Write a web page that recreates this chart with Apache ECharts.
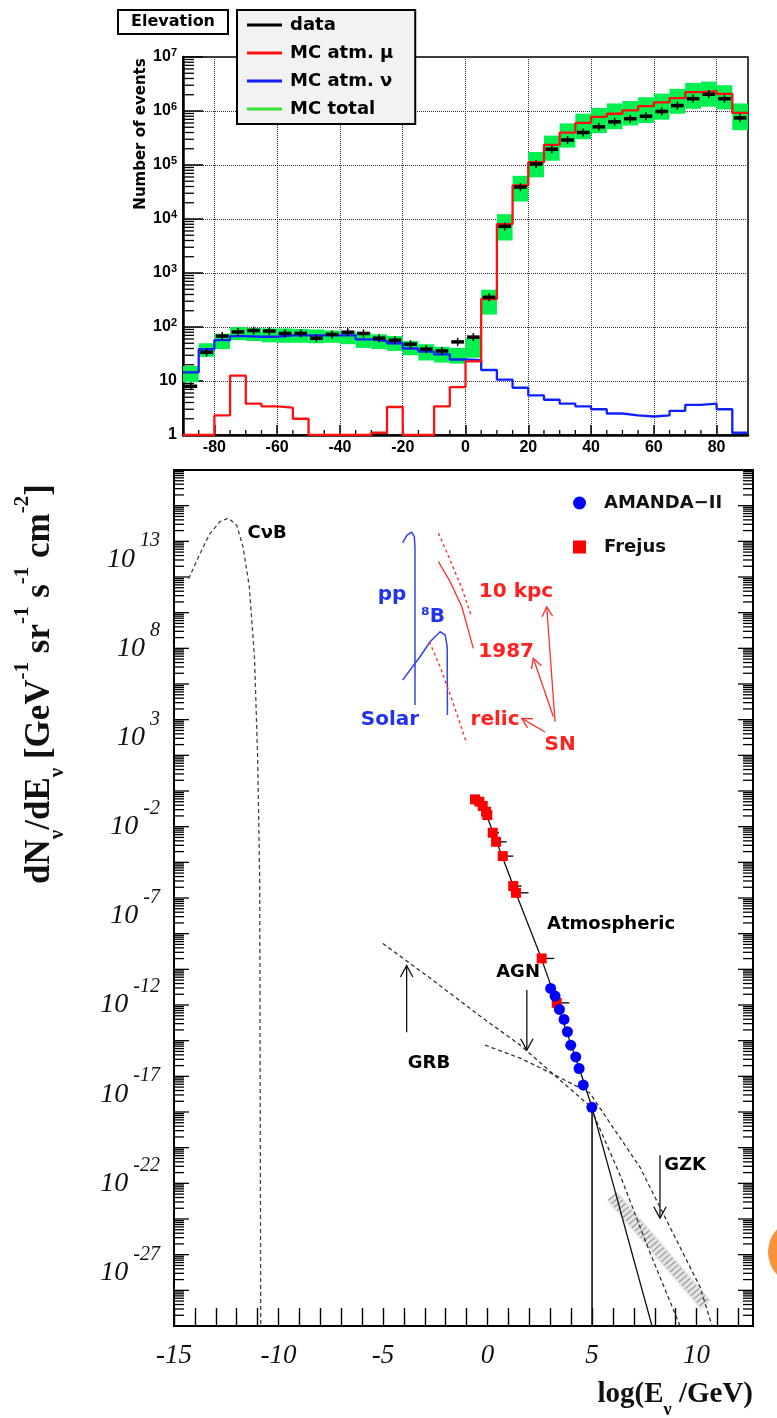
<!DOCTYPE html>
<html>
<head>
<meta charset="utf-8">
<title>Elevation histogram and neutrino flux spectrum</title>
<script src="https://cdn.jsdelivr.net/npm/echarts@6.0.0/dist/echarts.min.js"></script>
<style>
html,body{margin:0;padding:0;background:#ffffff;}
#chart{width:777px;height:1418px;}
</style>
</head>
<body>
<div id="chart"></div>
<script>
// ===== Top panel: elevation distribution, 5 degree bins =====
const binLo = [-90,-85,-80,-75,-70,-65,-60,-55,-50,-45,-40,-35,-30,-25,-20,-15,-10,-5,0,5,10,15,20,25,30,35,40,45,50,55,60,65,70,75,80,85];
const binHi = [-85,-80,-75,-70,-65,-60,-55,-50,-45,-40,-35,-30,-25,-20,-15,-10,-5,0,5,10,15,20,25,30,35,40,45,50,55,60,65,70,75,80,85,90];
const dataCounts = [8,34,68,81,86,84,76,76,62,73,80,76,62,57,48,39,36,53,65,355,7300,39000,104000,196000,290000,400000,510000,630000,720000,800000,980000,1260000,1690000,2040000,1690000,745000];
const mcMu = [1,1,2.3,12.6,3.8,3.4,3.2,2.0,1,1,1,1,1.1,3.3,1,1,3.4,7.7,23,330,8070,41900,113000,236000,398000,605000,780000,890000,1030000,1230000,1440000,1730000,2230000,2330000,2080000,920000];
const mcNu = [14.4,38.7,57,68,66,66,70,70,70,70,70,59,55,50,40,35,31,25,24.3,16,10.6,7.5,5.4,4.5,3.8,3.4,3.0,2.5,2.3,2.2,2.3,2.8,3.6,3.8,3.0,1.1];
const mcTotalLow = [9.5,28,39,57,55,52,51,51,50,51,48,41,39,36,30,24,22,21,27,170,4000,21000,59000,120000,210000,300000,390000,460000,540000,600000,690000,890000,1100000,1200000,1070000,440000];
const mcTotalHigh = [19,50,75,100,96,94,94,92,90,86,84,78,73,68,55,48,43,41,62,490,12300,63000,174000,350000,590000,890000,1140000,1380000,1530000,1800000,2100000,2570000,3300000,3500000,3000000,1380000];
const topMinorX = [-85,-75,-70,-65,-55,-50,-45,-35,-30,-25,-15,-10,-5,5,10,15,25,30,35,45,50,55,65,70,75,85];
const topLegendNames = ['data','MC atm. μ','MC atm. ν','MC total'];

// ===== Bottom panel: neutrino flux vs log10(E/GeV); y values are log10(flux) =====
const cnbX = [-14.3,-13.8,-13.3,-12.8,-12.4,-12.0,-11.7,-11.4,-11.15,-11.0,-10.9,-10.85];
const cnbY = [11.9,13.2,14.4,15.1,15.3,14.9,13.7,11.5,7.5,2.0,-5.0,-30];
const ppX = [-4.06,-3.85,-3.63,-3.50,-3.47,-3.47];
const ppY = [13.92,14.35,14.51,14.25,13.6,4.82];
const b8X = [-4.06,-3.6,-3.23,-2.75,-2.27,-2.03,-1.93,-1.92];
const b8Y = [6.22,6.95,7.53,8.37,8.93,8.75,8.1,4.26];
const sn10kpcX = [-2.35,-1.79,-1.23,-0.76];
const sn10kpcY = [14.45,12.95,11.37,9.77];
const sn1987X = [-2.35,-1.79,-1.23,-0.68];
const sn1987Y = [12.86,11.74,10.33,8.0];
const snRelicX = [-2.78,-2.27,-1.64,-1.0];
const snRelicY = [8.37,6.97,4.92,2.67];
const atmX = [-0.6,0.0,0.5,1.0,1.5,2.0,2.5,3.0,3.5,4.0,4.5,5.0,6.0,7.0,7.87];
const atmY = [-0.45,-1.5,-3.05,-4.6,-6.15,-7.65,-9.15,-10.8,-12.5,-14.25,-15.95,-17.75,-22.0,-26.3,-30];
const grbX = [-5.01,-2.75,-0.36,1.56,3.47,4.90,6.34,7.78,9.21];
const grbY = [-8.55,-10.49,-12.62,-14.25,-16.21,-17.67,-21.54,-25.91,-30];
const agnX = [-0.12,1.56,3.23,4.90,5.86,7.29,8.25,9.21,10.17,10.74];
const agnY = [-14.25,-14.98,-15.93,-16.94,-18.62,-21.09,-23.34,-25.58,-27.82,-30];
const cutX = [5,5];
const cutY = [-17.74,-30];
const gzkBandX = [5.96,10.45];
const gzkBandY = [-22.72,-28.83];
const frejusX = [-0.60,-0.39,-0.23,-0.07,-0.01,0.25,0.41,0.73,1.23,1.36,2.59,3.31];
const frejusY = [-0.47,-0.60,-0.84,-1.16,-1.35,-2.34,-2.85,-3.65,-5.33,-5.71,-9.39,-11.88];
const frejusXerr = [0.2,0.2,0.2,0.2,0.2,0.3,0.5,0.5,0.4,0.6,0.6,0.6];
const amandaX = [3.02,3.23,3.44,3.66,3.82,3.98,4.22,4.38,4.58,4.99];
const amandaY = [-11.07,-11.50,-12.25,-12.81,-13.50,-14.25,-14.91,-15.56,-16.49,-17.74];
const blackArrows = [[-3.87,-13.53,-3.87,-9.79],[1.88,-11.16,1.88,-14.53],[8.25,-20.42,8.25,-23.95]];
const redArrows = [[3.23,3.88,2.83,10.33],[3.15,4.16,2.19,7.44],[2.75,3.31,1.64,4.07]];
const blueLabels = ['pp','⁸B','Solar'];
const blueLabelX = [-4.57,-2.61,-4.67];
const blueLabelY = [10.99,9.76,3.98];
const redLabels = ['10 kpc','1987','relic','SN'];
const redLabelX = [1.36,0.89,0.36,3.47];
const redLabelY = [11.16,7.79,3.98,2.58];
const blackLabels = ['CνB','Atmospheric','AGN','GRB','GZK'];
const blackLabelX = [-10.55,5.91,1.46,-2.80,9.45];
const blackLabelY = [14.47,-7.46,-10.16,-15.26,-20.98];
const botLegendNames = ['AMANDA−II','Frejus'];

// ===== helpers =====
const SANS = '"Liberation Sans", Arial, Helvetica, sans-serif';
const WIDE = '"DejaVu Sans", Verdana, sans-serif';
const SERIF = '"Liberation Serif", "Times New Roman", serif';
const zip = (xs, ys) => xs.map((x, i) => [x, ys[i]]);
function stepPoints(vals) {
  const pts = [];
  vals.forEach((v, i) => { pts.push([binLo[i], v]); pts.push([binHi[i], v]); });
  return pts;
}
const topMinorY = [];
for (let e = 0; e < 7; e++) for (let k = 2; k <= 9; k++) topMinorY.push(k * Math.pow(10, e));
const botTicks = [];
for (let n = -30; n <= 18; n += 2) {
  botTicks.push([0, n, 15]);
  if (n < 18) for (let k = 2; k <= 9; k++) botTicks.push([0, n + 2 * Math.log10(k), 10]);
}

function renderBox(params, api) {
  const a = api.coord([api.value(0), api.value(3)]);
  const b = api.coord([api.value(1), api.value(2)]);
  return { type: 'rect', shape: { x: a[0], y: a[1], width: b[0] - a[0], height: b[1] - a[1] }, style: { fill: '#00f050' } };
}
function renderData(params, api) {
  const a = api.coord([api.value(0), api.value(2)]);
  const b = api.coord([api.value(1), api.value(2)]);
  const cx = (a[0] + b[0]) / 2;
  return { type: 'group', children: [
    { type: 'line', shape: { x1: a[0] + 1.5, y1: a[1], x2: b[0] - 1.5, y2: b[1] }, style: { stroke: '#000', lineWidth: 3.5 } },
    { type: 'line', shape: { x1: cx, y1: a[1] - 4, x2: cx, y2: a[1] + 4 }, style: { stroke: '#000', lineWidth: 1.5 } }
  ] };
}
function renderTopYTick(params, api) {
  const cs = params.coordSys;
  const y = api.coord([0, api.value(1)])[1];
  return { type: 'line', shape: { x1: cs.x, y1: y, x2: cs.x + 11, y2: y }, style: { stroke: '#000', lineWidth: 1.3 } };
}
function renderTopXTick(params, api) {
  const cs = params.coordSys;
  const x = api.coord([api.value(0), 1])[0];
  const yb = cs.y + cs.height;
  return { type: 'line', shape: { x1: x, y1: yb, x2: x, y2: yb - 5 }, style: { stroke: '#000', lineWidth: 1.3 } };
}
function renderBotYTick(params, api) {
  const cs = params.coordSys;
  const y = api.coord([0, api.value(1)])[1];
  const L = api.value(2);
  return { type: 'group', children: [
    { type: 'line', shape: { x1: cs.x, y1: y, x2: cs.x + L, y2: y }, style: { stroke: '#000', lineWidth: 1.3 } },
    { type: 'line', shape: { x1: cs.x + cs.width, y1: y, x2: cs.x + cs.width - L, y2: y }, style: { stroke: '#000', lineWidth: 1.3 } }
  ] };
}
function arrowRenderer(color, L, w) {
  return function (params, api) {
    const a = api.coord([api.value(0), api.value(1)]);
    const b = api.coord([api.value(2), api.value(3)]);
    const ang = Math.atan2(b[1] - a[1], b[0] - a[0]);
    const h1 = [b[0] - L * Math.cos(ang - w), b[1] - L * Math.sin(ang - w)];
    const h2 = [b[0] - L * Math.cos(ang + w), b[1] - L * Math.sin(ang + w)];
    return { type: 'group', children: [
      { type: 'line', shape: { x1: a[0], y1: a[1], x2: b[0], y2: b[1] }, style: { stroke: color, lineWidth: 1.3 } },
      { type: 'polyline', shape: { points: [h1, b, h2] }, style: { stroke: color, fill: null, lineWidth: 1.3 } }
    ] };
  };
}
function renderErr(params, api) {
  const a = api.coord([api.value(0), api.value(1)]);
  const b = api.coord([api.value(0) + api.value(2), api.value(1)]);
  return { type: 'line', shape: { x1: a[0], y1: a[1], x2: b[0], y2: b[1] }, style: { stroke: '#000', lineWidth: 1.3 } };
}
function lineSeries(xs, ys, color, width, type, z) {
  return { type: 'line', xAxisIndex: 1, yAxisIndex: 1, data: zip(xs, ys), symbol: 'none', silent: true,
    lineStyle: { color: color, width: width, type: type }, z: z || 3, animation: false };
}
function labelSeries(texts, xs, ys, color, size, weight) {
  return { type: 'scatter', xAxisIndex: 1, yAxisIndex: 1, symbolSize: 1, silent: true, z: 10,
    itemStyle: { color: 'rgba(0,0,0,0)', opacity: 1 },
    label: { show: true, position: 'inside', opacity: 1, formatter: p => p.name, color: color, fontSize: size, fontWeight: weight,
      fontFamily: WIDE, textBorderWidth: 0 },
    data: texts.map((t, i) => ({ name: t, value: [xs[i], ys[i]] })) };
}

const titleRich = {
  n: { fontFamily: SERIF, fontWeight: 'bold', fontSize: 35, lineHeight: 56, verticalAlign: 'middle', fill: '#111', color: '#111' },
  sub: { fontFamily: SERIF, fontWeight: 'bold', fontSize: 21, lineHeight: 10, verticalAlign: 'bottom', fill: '#111', color: '#111' },
  sup: { fontFamily: SERIF, fontWeight: 'bold', fontSize: 21, lineHeight: 10, verticalAlign: 'top', fill: '#111', color: '#111' }
};
const xTitleRich = {
  n: { fontFamily: SERIF, fontWeight: 'bold', fontSize: 29, lineHeight: 48, verticalAlign: 'middle', fill: '#111', color: '#111' },
  sub: { fontFamily: SERIF, fontWeight: 'bold', fontSize: 18, lineHeight: 10, verticalAlign: 'bottom', fill: '#111', color: '#111' }
};

const chart = echarts.init(document.getElementById('chart'), null, { renderer: 'canvas' });
chart.setOption({
  animation: false,
  backgroundColor: '#ffffff',
  title: { text: 'Elevation', left: 118, top: 10, padding: [2, 13], borderColor: '#000', borderWidth: 2,
    textStyle: { fontSize: 16, fontWeight: 'bold', color: '#000', fontFamily: WIDE, lineHeight: 20 } },
  legend: [
    { left: 237, top: 10, orient: 'vertical', backgroundColor: '#f2f2f2', borderColor: '#000', borderWidth: 2,
      padding: [5, 22, 5, 10], itemWidth: 35, itemHeight: 3, itemGap: 8, selectedMode: false,
      textStyle: { fontSize: 18, fontWeight: 'bold', color: '#000', fontFamily: WIDE, lineHeight: 20, padding: [0, 0, 0, 3] },
      data: [
        { name: topLegendNames[0], icon: 'rect', itemStyle: { color: '#000' } },
        { name: topLegendNames[1], icon: 'rect', itemStyle: { color: '#ff1010' } },
        { name: topLegendNames[2], icon: 'rect', itemStyle: { color: '#1020ff' } },
        { name: topLegendNames[3], icon: 'rect', itemStyle: { color: '#33e033' } }
      ] },
    { left: 573, top: 493, orient: 'vertical', padding: 0, itemWidth: 13, itemHeight: 13, itemGap: 24, selectedMode: false,
      textStyle: { fontSize: 18, fontWeight: 'bold', color: '#111', fontFamily: WIDE, lineHeight: 20, padding: [0, 0, 0, 13] },
      data: [
        { name: botLegendNames[0], icon: 'circle', itemStyle: { color: '#0000ff', opacity: 1 } },
        { name: botLegendNames[1], icon: 'rect', itemStyle: { color: '#ff0000', opacity: 1 } }
      ] }
  ],
  grid: [
    { left: 183, top: 57, width: 565, height: 378, show: true, borderColor: '#000', borderWidth: 1.5, backgroundColor: 'transparent' },
    { left: 174, top: 470, width: 579, height: 856, show: true, borderColor: '#000', borderWidth: 2, backgroundColor: 'transparent' }
  ],
  xAxis: [
    { gridIndex: 0, type: 'value', min: -90, max: 90, splitNumber: 9,
      axisLine: { onZero: false, lineStyle: { color: '#000', width: 2.5 } },
      axisTick: { inside: true, length: 10, lineStyle: { color: '#000', width: 1.5 } },
      axisLabel: { showMinLabel: false, showMaxLabel: false, fontSize: 16, fontWeight: 'bold', color: '#000', fontFamily: SANS, margin: 5 },
      splitLine: { show: true, lineStyle: { type: 'dotted', color: '#333', width: 1 } } },
    { gridIndex: 1, type: 'value', min: -15, max: 12.7, interval: 1,
      axisLine: { onZero: false, lineStyle: { color: '#000', width: 2 } },
      axisTick: { inside: true, length: 18, lineStyle: { color: '#000', width: 1.4 } },
      axisLabel: { formatter: v => (Math.abs(v - Math.round(v / 5) * 5) < 1e-6 ? String(Math.round(v)) : ''),
        fontFamily: SERIF, fontStyle: 'italic', fontSize: 27, color: '#111', margin: 16, showMaxLabel: false },
      splitLine: { show: false } }
  ],
  yAxis: [
    { gridIndex: 0, type: 'log', logBase: 10, min: 1, max: 1e7, splitNumber: 7,
      axisLine: { onZero: false, lineStyle: { color: '#000', width: 2.5 } },
      axisTick: { inside: true, length: 20, lineStyle: { color: '#000', width: 1.5 } },
      axisLabel: { margin: 6, fontSize: 16, fontWeight: 'bold', color: '#000', fontFamily: SANS,
        formatter: v => { const e = Math.round(Math.log10(v)); if (e === 0) return '1'; if (e === 1) return '10'; return '{b|10}{s|' + e + '}'; },
        rich: { b: { fontSize: 16, fontWeight: 'bold', color: '#000', fontFamily: SANS, lineHeight: 20, verticalAlign: 'middle' },
                s: { fontSize: 11, fontWeight: 'bold', color: '#000', fontFamily: SANS, lineHeight: 8, verticalAlign: 'top' } } },
      splitLine: { show: true, lineStyle: { type: 'dotted', color: '#333', width: 1 } } },
    { gridIndex: 1, type: 'value', min: -30, max: 18, interval: 1,
      axisLine: { onZero: false, lineStyle: { color: '#000', width: 2 } },
      axisTick: { show: false },
      axisLabel: { margin: 14, showMaxLabel: false,
        formatter: v => { const n = Math.round(v); return (((n % 5) + 5) % 5 === 3) ? '{b|10}{s|' + n + '}' : ''; },
        rich: { b: { fontFamily: SERIF, fontStyle: 'italic', fontSize: 28, color: '#111', lineHeight: 56, verticalAlign: 'middle' },
                s: { fontFamily: SERIF, fontStyle: 'italic', fontSize: 20, color: '#111', lineHeight: 8, verticalAlign: 'top', padding: [0, 0, 0, 5] } } },
      splitLine: { show: false } }
  ],
  graphic: [
    { type: 'text', x: 141, y: 134, rotation: Math.PI / 2,
      style: { text: 'Number of events', font: 'bold 15px "DejaVu Sans", Verdana, sans-serif', fill: '#000',
        align: 'center', verticalAlign: 'middle', textAlign: 'center', textVerticalAlign: 'middle' } },
    { type: 'text', x: 40, y: 684, rotation: Math.PI / 2,
      style: { text: '{n|dN}{sub|ν}{n|/dE}{sub|ν}{n| [GeV}{sup|-1}{n| sr}{sup|-1}{n| s}{sup|-1}{n| cm}{sup|-2}{n|]}',
        rich: titleRich, fill: '#111', align: 'center', verticalAlign: 'middle', textAlign: 'center', textVerticalAlign: 'middle' } },
    { type: 'text', x: 753, y: 1395,
      style: { text: '{n|log(E}{sub|ν}{n| /GeV)}', rich: xTitleRich, fill: '#111',
        align: 'right', verticalAlign: 'middle', textAlign: 'right', textVerticalAlign: 'middle' } },
    { type: 'circle', shape: { cx: 801, cy: 1252, r: 33 }, style: { fill: '#f7943a' } }
  ],
  series: [
    // ---- top panel ----
    { type: 'custom', xAxisIndex: 0, yAxisIndex: 0, silent: true, renderItem: renderTopYTick, encode: { x: 0, y: 1 },
      data: topMinorY.map(v => [0, v]), z: 1 },
    { type: 'custom', xAxisIndex: 0, yAxisIndex: 0, silent: true, renderItem: renderTopXTick, encode: { x: 0, y: 1 },
      data: topMinorX.map(v => [v, 1]), z: 1 },
    { name: 'MC total', type: 'custom', xAxisIndex: 0, yAxisIndex: 0, silent: true, renderItem: renderBox,
      encode: { x: [0, 1], y: [2, 3] }, itemStyle: { color: '#33e033' },
      data: binLo.map((lo, i) => [lo, binHi[i], mcTotalLow[i], mcTotalHigh[i]]), z: 2 },
    { name: 'MC atm. ν', type: 'line', xAxisIndex: 0, yAxisIndex: 0, data: stepPoints(mcNu), symbol: 'none', silent: true,
      lineStyle: { color: '#1020ff', width: 2.3 }, itemStyle: { color: '#1020ff' }, z: 3 },
    { name: 'MC atm. μ', type: 'line', xAxisIndex: 0, yAxisIndex: 0, data: stepPoints(mcMu), symbol: 'none', silent: true,
      lineStyle: { color: '#ff1010', width: 2.3 }, itemStyle: { color: '#ff1010' }, z: 4 },
    { name: 'data', type: 'custom', xAxisIndex: 0, yAxisIndex: 0, silent: true, renderItem: renderData,
      encode: { x: [0, 1], y: 2 }, itemStyle: { color: '#000' },
      data: binLo.map((lo, i) => [lo, binHi[i], dataCounts[i]]), z: 5 },
    // ---- bottom panel ----
    { type: 'custom', xAxisIndex: 1, yAxisIndex: 1, silent: true, renderItem: renderBotYTick, encode: { x: 0, y: 1 },
      data: botTicks, z: 1 },
    lineSeries(gzkBandX, gzkBandY, 'rgba(200,200,200,0.45)', 14, 'solid', 2),
    lineSeries(gzkBandX, gzkBandY, 'rgba(140,140,140,0.7)', 11, [1.5, 3], 2),
    lineSeries(cnbX, cnbY, '#444', 1.3, [4, 3]),
    lineSeries(ppX, ppY, '#3344ee', 1.5, 'solid'),
    lineSeries(b8X, b8Y, '#3344ee', 1.5, 'solid'),
    lineSeries(sn10kpcX, sn10kpcY, '#ff3030', 1.4, [3, 3]),
    lineSeries(sn1987X, sn1987Y, '#ff3030', 1.3, 'solid'),
    lineSeries(snRelicX, snRelicY, '#ff3030', 1.4, [3, 3]),
    lineSeries(grbX, grbY, '#333', 1.3, [4, 3]),
    lineSeries(agnX, agnY, '#333', 1.3, [4, 3]),
    lineSeries(atmX, atmY, '#111', 1.3, 'solid', 4),
    lineSeries(cutX, cutY, '#111', 1.6, 'solid', 4),
    { type: 'custom', xAxisIndex: 1, yAxisIndex: 1, silent: true, renderItem: arrowRenderer('#111', 13, 0.5),
      encode: { x: [0, 2], y: [1, 3] }, data: blackArrows, z: 5 },
    { type: 'custom', xAxisIndex: 1, yAxisIndex: 1, silent: true, renderItem: arrowRenderer('#ff3030', 11, 0.5),
      encode: { x: [0, 2], y: [1, 3] }, data: redArrows, z: 5 },
    { type: 'custom', xAxisIndex: 1, yAxisIndex: 1, silent: true, renderItem: renderErr,
      encode: { x: 0, y: 1 }, data: frejusX.map((x, i) => [x, frejusY[i], frejusXerr[i]]), z: 5 },
    { name: 'Frejus', type: 'scatter', xAxisIndex: 1, yAxisIndex: 1, symbol: 'rect', symbolSize: 10, silent: true,
      itemStyle: { color: '#ff0000', opacity: 1 }, data: zip(frejusX, frejusY), z: 6 },
    { name: 'AMANDA−II', type: 'scatter', xAxisIndex: 1, yAxisIndex: 1, symbol: 'circle', symbolSize: 11, silent: true,
      itemStyle: { color: '#0000ff', opacity: 1 }, data: zip(amandaX, amandaY), z: 7 },
    labelSeries(blueLabels, blueLabelX, blueLabelY, '#2233ee', 20, 'bold'),
    labelSeries(redLabels, redLabelX, redLabelY, '#ff2020', 20, 'bold'),
    labelSeries(blackLabels, blackLabelX, blackLabelY, '#000', 18, 'bold')
  ]
});
</script>
</body>
</html>
